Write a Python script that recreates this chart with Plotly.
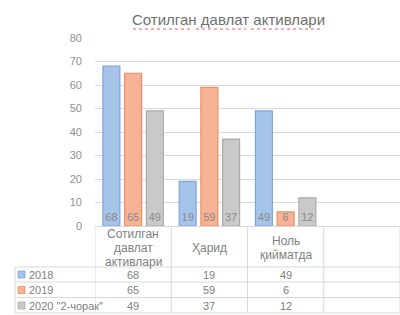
import plotly.graph_objects as go

categories = ["Сотилган давлат активлари", "Ҳарид", "Ноль қийматда"]
header_labels = ["Сотилган<br>давлат<br>активлари", "Ҳарид", "Ноль<br>қийматда"]
series_names = ["2018", "2019", "2020 \"2-чорак\""]
values_2018 = [68, 19, 49]
values_2019 = [65, 59, 6]
values_2020 = [49, 37, 12]
series_values = [values_2018, values_2019, values_2020]
fills = ["#a6c3ea", "#f6b396", "#c9c9c9"]
borders = ["#7ea6dc", "#ee8e62", "#ababab"]
y_ticks = [0, 10, 20, 30, 40, 50, 60, 70, 80]

W, H = 400, 315
L, R, T, B = 95, 0, 38, 89
EMPTY = "\u2003"  # empty fourth category column
cat_all = categories + [EMPTY]

def py(p):  # pixel y -> paper y
    return (H - B - p) / (H - T - B)

def px(p):  # pixel x -> paper x
    return (p - L) / (W - L - R)

TXT = "#808080"
GRID = "#d9d9d9"
FONT = "Liberation Sans"

fig = go.Figure()
for name, vals, fc, bc in zip(series_names, series_values, fills, borders):
    fig.add_trace(go.Bar(
        name=name, x=categories, y=vals,
        marker=dict(color=fc, line=dict(color=bc, width=1.2)),
        text=[str(v) for v in vals], textposition="inside",
        insidetextanchor="start", textangle=0,
        textfont=dict(color="#8a8a8a", size=11, family=FONT),
        showlegend=False, hoverinfo="skip",
    ))

shapes = []
# vertical column lines of data table
for i in range(len(cat_all)):
    shapes.append(dict(type="line", xref="x", yref="paper",
                       x0=i - 0.5, x1=i - 0.5, y0=py(226), y1=py(313),
                       line=dict(color=GRID, width=1)))
shapes.append(dict(type="line", xref="x", yref="paper",
                   x0=3.5, x1=3.5, y0=py(226), y1=py(313),
                   line=dict(color=GRID, width=1)))
# left legend column border
shapes.append(dict(type="line", xref="paper", yref="paper",
                   x0=px(15), x1=px(15), y0=py(267), y1=py(313),
                   line=dict(color=GRID, width=1)))
for yy in [267, 282, 297.5, 313]:
    shapes.append(dict(type="line", xref="paper", yref="paper",
                       x0=px(15), x1=1, y0=py(yy), y1=py(yy),
                       line=dict(color=GRID, width=1)))

annotations = []
# header row of table (one annotation per text line for Excel-like spacing)
LINE_H = 14
HEADER_MID = 247.5
for cat, lab in zip(categories, header_labels):
    lines = lab.split("<br>")
    n = len(lines)
    for k, ln in enumerate(lines):
        yy = HEADER_MID + (k - (n - 1) / 2) * LINE_H
        annotations.append(dict(xref="x", yref="paper", x=cat, y=py(yy),
                                text=ln, showarrow=False, yanchor="middle",
                                font=dict(size=12, color=TXT, family=FONT)))
row_y = [274.5, 290, 305.5]
for name, vals, fc, bc, ry in zip(series_names, series_values, fills, borders, row_y):
    shapes.append(dict(type="rect", xref="paper", yref="paper",
                       x0=px(18), x1=px(25), y0=py(ry + 3.5), y1=py(ry - 3.5),
                       fillcolor=fc, line=dict(color=bc, width=0.8)))
    annotations.append(dict(xref="paper", yref="paper", x=px(27), y=py(ry),
                            text=name, showarrow=False, xanchor="left",
                            yanchor="middle",
                            font=dict(size=11, color=TXT, family=FONT)))
    for cat, v in zip(categories, vals):
        annotations.append(dict(xref="x", yref="paper", x=cat, y=py(ry),
                                text=str(v), showarrow=False, yanchor="middle",
                                font=dict(size=11, color=TXT, family=FONT)))

# title
annotations.append(dict(xref="paper", yref="paper", x=px(228), y=py(19),
                        text="Сотилган давлат активлари", showarrow=False,
                        xanchor="center", yanchor="middle",
                        font=dict(size=15, color="#707070", family=FONT)))
# spell-check style red underline under title
for x0, x1 in [(133, 190), (196, 246), (251, 323)]:
    shapes.append(dict(type="line", xref="paper", yref="paper",
                       x0=px(x0), x1=px(x1), y0=py(29), y1=py(29),
                       line=dict(color="#e06060", width=1, dash="dot")))

fig.update_layout(
    width=W, height=H,
    margin=dict(l=L, r=R, t=T, b=B, pad=0),
    paper_bgcolor="white", plot_bgcolor="white",
    barmode="group", bargap=0.145, bargroupgap=0.22,
    uniformtext=dict(minsize=11, mode="show"),
    xaxis=dict(categoryorder="array", categoryarray=cat_all, type="category",
               range=[-0.5, 3.5], showticklabels=False, showgrid=False,
               showline=True, linecolor=GRID, ticks="", zeroline=False,
               fixedrange=True),
    yaxis=dict(range=[0, 80], tickvals=y_ticks, showgrid=True, gridcolor=GRID,
               gridwidth=1, zeroline=False, showline=False, ticks="",
               ticklabelstandoff=12,
               tickfont=dict(size=11, color="#909090", family=FONT),
               fixedrange=True),
    shapes=shapes, annotations=annotations,
    font=dict(family=FONT),
)

fig.write_html("out.html")
